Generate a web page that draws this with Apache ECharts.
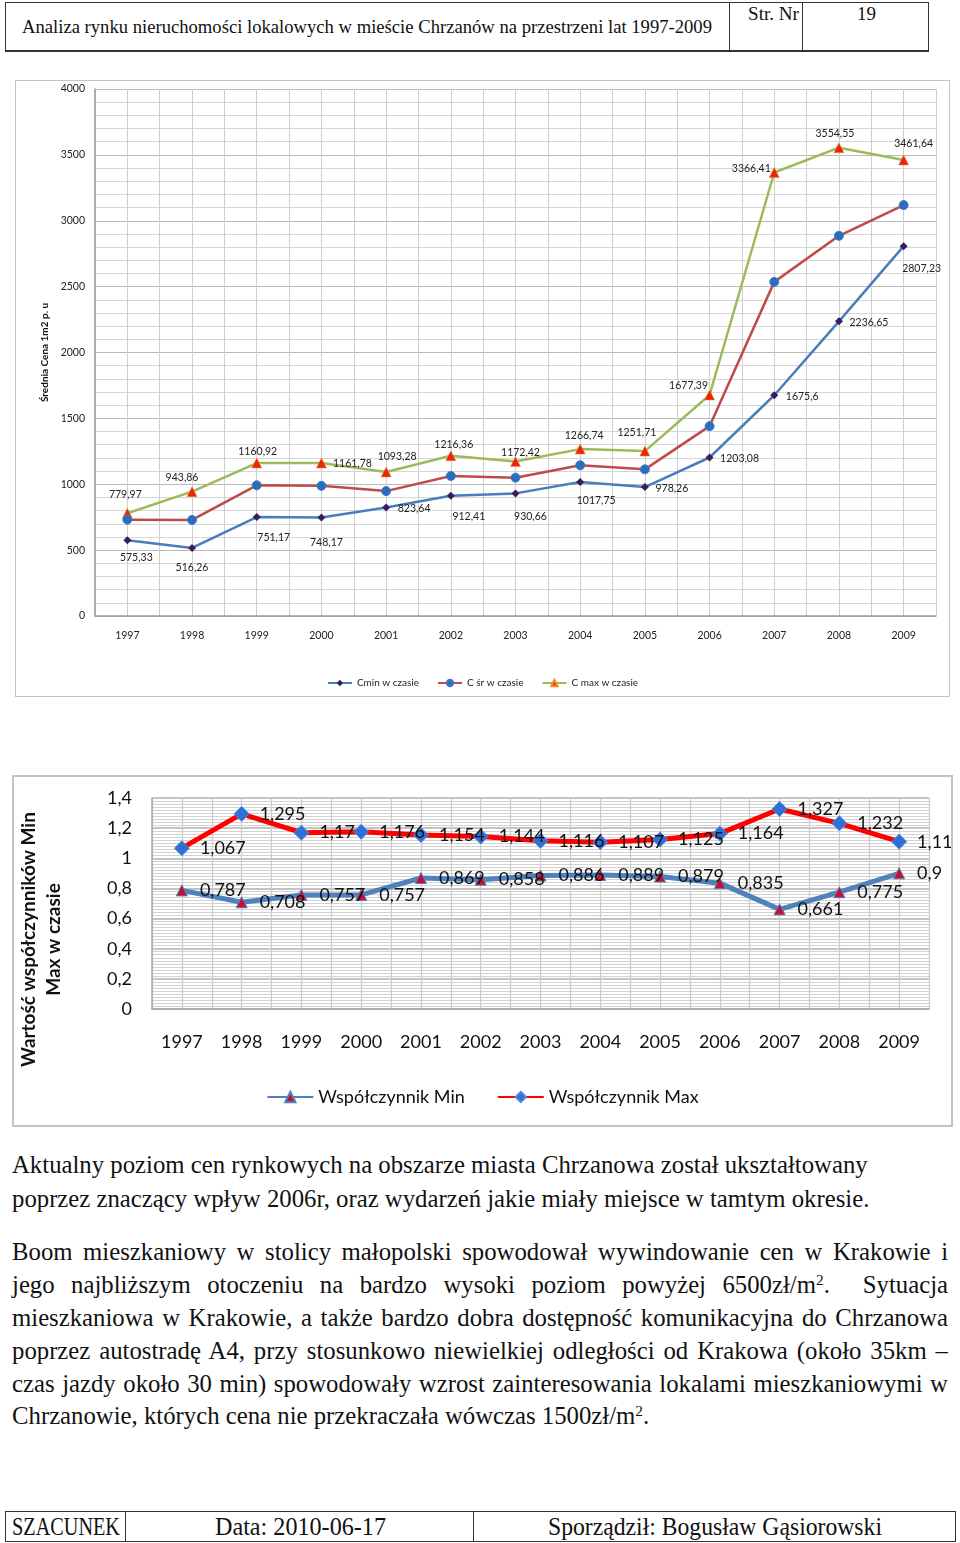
<!DOCTYPE html>
<html>
<head>
<meta charset="utf-8">
<script src="https://cdn.jsdelivr.net/npm/echarts@6/dist/echarts.min.js"></script>
<style>
html,body{margin:0;padding:0;background:#fff;}
body{width:960px;height:1543px;position:relative;overflow:hidden;font-family:"Liberation Serif","Times New Roman",serif;color:#111;}
.abs{position:absolute;}
.fit{display:inline-block;white-space:nowrap;transform-origin:0 50%;}
.box{position:absolute;box-sizing:border-box;}
.vl{position:absolute;width:0;border-left:1.5px solid #333;}
.line{position:absolute;left:12px;white-space:nowrap;font-size:22px;line-height:34px;height:34px;}
sup{font-size:0.62em;line-height:0;vertical-align:0.55em;}
#c1{position:absolute;left:15px;top:80px;width:935px;height:617px;box-sizing:border-box;border:1.5px solid #C4C4C4;}
#c2{position:absolute;left:12px;top:775px;width:941px;height:352px;box-sizing:border-box;border:2px solid #C4C4C4;}
</style>
</head>
<body>
<!-- header -->
<div class="box" style="left:5px;top:2px;width:924px;height:50px;border:1.5px solid #333;border-bottom:2px solid #333;"></div>
<div class="vl" style="left:729px;top:2px;height:50px;"></div>
<div class="vl" style="left:802px;top:2px;height:50px;"></div>
<div class="abs" style="left:22px;top:15px;height:24px;line-height:24px;"><span class="fit" data-w="690" style="font-size:19px;">Analiza rynku nieruchomości lokalowych w mieście Chrzanów na przestrzeni lat 1997-2009</span></div>
<div class="abs" style="left:748px;top:2px;height:24px;line-height:24px;"><span class="fit" data-w="51" style="font-size:18px;">Str. Nr</span></div>
<div class="abs" style="left:857px;top:2px;height:24px;line-height:24px;"><span class="fit" data-w="19" style="font-size:19px;">19</span></div>

<div id="c1"></div>
<div id="c2"></div>

<!-- text -->
<div class="line" data-c="1165" data-mode="left">Aktualny poziom cen rynkowych na obszarze miasta Chrzanowa został ukształtowany</div>
<div class="line" data-c="1199" data-mode="left">poprzez znaczący wpływ 2006r, oraz wydarzeń jakie miały miejsce w tamtym okresie.</div>
<div class="line" data-c="1252" data-mode="just">Boom mieszkaniowy w stolicy małopolski spowodował wywindowanie cen w Krakowie i</div>
<div class="line" data-c="1285" data-mode="just">jego najbliższym otoczeniu na bardzo wysoki poziom powyżej 6500zł/m<sup>2</sup>.&nbsp; Sytuacja</div>
<div class="line" data-c="1318" data-mode="just">mieszkaniowa w Krakowie, a także bardzo dobra dostępność komunikacyjna do Chrzanowa</div>
<div class="line" data-c="1351" data-mode="just">poprzez autostradę A4, przy stosunkowo niewielkiej odległości od Krakowa (około 35km –</div>
<div class="line" data-c="1384" data-mode="just">czas jazdy około 30 min) spowodowały wzrost zainteresowania lokalami mieszkaniowymi w</div>
<div class="line" data-c="1416" data-mode="left">Chrzanowie, których cena nie przekraczała wówczas 1500zł/m<sup>2</sup>.</div>

<!-- footer -->
<div class="box" style="left:5px;top:1511px;width:951px;height:31px;border:1.5px solid #333;"></div>
<div class="vl" style="left:125px;top:1511px;height:31px;"></div>
<div class="vl" style="left:473px;top:1511px;height:31px;"></div>
<div class="abs" style="left:12px;top:1512px;height:30px;line-height:30px;"><span class="fit" data-w="108" style="font-size:25px;">SZACUNEK</span></div>
<div class="abs" style="left:215px;top:1512px;height:30px;line-height:30px;"><span class="fit" data-w="171" style="font-size:25px;">Data: 2010-06-17</span></div>
<div class="abs" style="left:548px;top:1512px;height:30px;line-height:30px;"><span class="fit" data-w="334" style="font-size:25px;">Sporządził: Bogusław Gąsiorowski</span></div>

<script>
// ---------------- data ----------------
const years = ['1997','1998','1999','2000','2001','2002','2003','2004','2005','2006','2007','2008','2009'];
const cMin = [575.33, 516.26, 751.17, 748.17, 823.64, 912.41, 930.66, 1017.75, 978.26, 1203.08, 1675.6, 2236.65, 2807.23];
const cSr  = [731, 729, 992, 988, 948, 1063, 1050, 1144, 1113, 1441, 2536, 2886, 3119];
const cMax = [779.97, 943.86, 1160.92, 1161.78, 1093.28, 1216.36, 1172.42, 1266.74, 1251.71, 1677.39, 3366.41, 3554.55, 3461.64];
const kMin = [0.787, 0.708, 0.757, 0.757, 0.869, 0.858, 0.886, 0.889, 0.879, 0.835, 0.661, 0.775, 0.9];
const kMax = [1.067, 1.295, 1.17, 1.176, 1.154, 1.144, 1.116, 1.107, 1.125, 1.164, 1.327, 1.232, 1.11];
const seriesNames1 = ['Cmin w czasie', 'C śr w czasie', 'C max w czasie'];
const seriesNames2 = ['Współczynnik Min', 'Współczynnik Max'];

// label placement (style only): offsets of label centre from the point
const minLabelOffsets = [[9,17],[0,20],[17,21],[5,25],[28,1],[18,21],[15,23],[16,19],[27,1],[30,1],[28,1],[30,1],[18,22]];
const maxLabelOffsets = [[-2,-19],[-10,-14],[1,-11],[31,1],[11,-15],[3,-11],[5,-9],[4,-13],[-8,-18],[-21,-9],[-23,-4],[-4,-14],[10,-16]];

const fmt = v => String(v).replace('.', ',');
const font = 'Lato, "Liberation Sans", sans-serif';

// ---------------- chart 1 ----------------
const c1 = echarts.init(document.getElementById('c1'));
c1.setOption({
  animation: false,
  textStyle: {fontFamily: font},
  grid: {left: 79, right: 13, top: 8, bottom: 80, outerBoundsMode: 'none', containLabel: false},
  legend: {
    top: 592, left: 'center', itemWidth: 24, itemHeight: 8, itemGap: 18,
    textStyle: {fontSize: 10, color: '#222', fontFamily: font},
    data: seriesNames1
  },
  xAxis: [
    {type: 'category', data: years, boundaryGap: true,
     axisLine: {lineStyle: {color: '#9A9A9A', width: 1.5}}, axisTick: {show: false},
     axisLabel: {fontSize: 10.5, color: '#222', margin: 14}, splitLine: {show: false}},
    {type: 'value', min: 0, max: 26, interval: 1, position: 'top',
     axisLine: {show: false}, axisTick: {show: false}, axisLabel: {show: false},
     splitLine: {show: true, lineStyle: {color: '#CFCFCF', width: 1}}}
  ],
  yAxis: {
    type: 'value', min: 0, max: 4000, interval: 500,
    name: 'Średnia Cena 1m2 p. u', nameLocation: 'middle', nameGap: 45,
    nameTextStyle: {fontSize: 10, fontWeight: 'bold', color: '#111', fontFamily: font},
    axisLine: {show: true, lineStyle: {color: '#9A9A9A', width: 1.5}}, axisTick: {show: false},
    axisLabel: {fontSize: 10.5, color: '#222', margin: 10, formatter: v => String(v)},
    splitLine: {lineStyle: {color: '#B9B9B9', width: 1.2}},
    minorTick: {show: false, splitNumber: 5},
    minorSplitLine: {show: true, lineStyle: {color: '#D6D6D6', width: 1}}
  },
  series: [
    {name: seriesNames1[0], type: 'line', z: 4,
     data: cMin.map((v, i) => ({value: v, label: {offset: minLabelOffsets[i]}})),
     symbol: 'diamond', symbolSize: 8,
     lineStyle: {color: '#4A7EBB', width: 2.5}, itemStyle: {color: '#3A1D5A'},
     label: {show: true, position: 'inside', fontSize: 10.5, color: '#222', formatter: p => fmt(p.value)}},
    {name: seriesNames1[1], type: 'line', z: 3,
     data: cSr, symbol: 'circle', symbolSize: 9,
     lineStyle: {color: '#BE4B48', width: 2.5}, itemStyle: {color: '#2A6EBB', borderColor: '#3C7CC4', borderWidth: 1}},
    {name: seriesNames1[2], type: 'line', z: 2,
     data: cMax.map((v, i) => ({value: v, label: {offset: maxLabelOffsets[i]}})),
     symbol: 'triangle', symbolSize: 10,
     lineStyle: {color: '#9BBB59', width: 2.5}, itemStyle: {color: '#E8260C', borderColor: '#F08A30', borderWidth: 0.5},
     label: {show: true, position: 'inside', fontSize: 10.5, color: '#222', formatter: p => fmt(p.value)}}
  ]
});

// ---------------- chart 2 ----------------
const c2 = echarts.init(document.getElementById('c2'));
c2.setOption({
  animation: false,
  textStyle: {fontFamily: font},
  grid: {left: 138, right: 22, top: 21, bottom: 116, outerBoundsMode: 'none', containLabel: false},
  legend: {
    top: 306, left: 'center', itemWidth: 46, itemHeight: 13, itemGap: 32,
    textStyle: {fontSize: 18, color: '#111', fontFamily: font},
    data: seriesNames2
  },
  xAxis: [
    {type: 'category', data: years, boundaryGap: true,
     axisLine: {lineStyle: {color: '#A8A8A8', width: 1.5}}, axisTick: {show: false},
     axisLabel: {fontSize: 18, color: '#111', margin: 24}, splitLine: {show: false}},
    {type: 'value', min: 0, max: 26, interval: 1, position: 'top',
     axisLine: {show: false}, axisTick: {show: false}, axisLabel: {show: false},
     splitLine: {show: true, lineStyle: {color: '#CBCBCB', width: 1.2}}}
  ],
  yAxis: {
    type: 'value', min: 0, max: 1.4, interval: 0.2,
    name: 'Wartość współczynników Min\nMax w czasie', nameLocation: 'middle', nameGap: 86,
    nameTextStyle: {fontSize: 19, fontWeight: 'bold', color: '#111', lineHeight: 25, fontFamily: font, padding: [0, 72, 0, 0]},
    axisLine: {show: true, lineStyle: {color: '#A8A8A8', width: 1.5}}, axisTick: {show: false},
    axisLabel: {fontSize: 18, color: '#111', margin: 20, formatter: v => String(+v.toFixed(1)).replace('.', ',')},
    splitLine: {lineStyle: {color: '#AFAFAF', width: 1.5}},
    minorTick: {show: false, splitNumber: 10},
    minorSplitLine: {show: true, lineStyle: {color: '#D2D2D2', width: 1}}
  },
  series: [
    {name: seriesNames2[0], type: 'line', data: kMin, z: 2,
     symbol: 'triangle', symbolSize: 11,
     lineStyle: {color: '#4F81BD', width: 5}, itemStyle: {color: '#C8102E', borderColor: '#4F81BD', borderWidth: 1},
     label: {show: true, position: 'right', distance: 12, fontSize: 18, color: '#111', formatter: p => fmt(p.value)}},
    {name: seriesNames2[1], type: 'line', data: kMax, z: 3,
     symbol: 'diamond', symbolSize: 15,
     lineStyle: {color: '#FF0000', width: 5}, itemStyle: {color: '#2F6FD6', borderColor: '#4F86DE', borderWidth: 1},
     label: {show: true, position: 'right', distance: 10, fontSize: 18, color: '#111', formatter: p => fmt(p.value)}}
  ]
});

// ---------------- text fitting ----------------
document.querySelectorAll('.fit').forEach(el => {
  const w = el.getBoundingClientRect().width;
  const target = +el.dataset.w;
  el.style.transform = 'scaleX(' + (target / w) + ')';
});
// paragraph font size: first line natural width = 856px
(function () {
  const lines = Array.from(document.querySelectorAll('.line'));
  const first = lines[0];
  const w0 = first.getBoundingClientRect().width;
  const fs = 22 * 856 / w0;
  lines.forEach(el => {
    el.style.fontSize = fs.toFixed(2) + 'px';
    el.style.top = (+el.dataset.c - 17) + 'px';
  });
  lines.forEach(el => {
    if (el.dataset.mode === 'just') {
      const spaces = (el.textContent.match(/[ \u00a0]/g) || []).length;
      let ws = 0;
      for (let k = 0; k < 3; k++) {
        const w = el.getBoundingClientRect().width;
        ws += (936 - w) / spaces;
        el.style.wordSpacing = ws.toFixed(3) + 'px';
      }
    }
  });
})();
</script>
</body>
</html>
